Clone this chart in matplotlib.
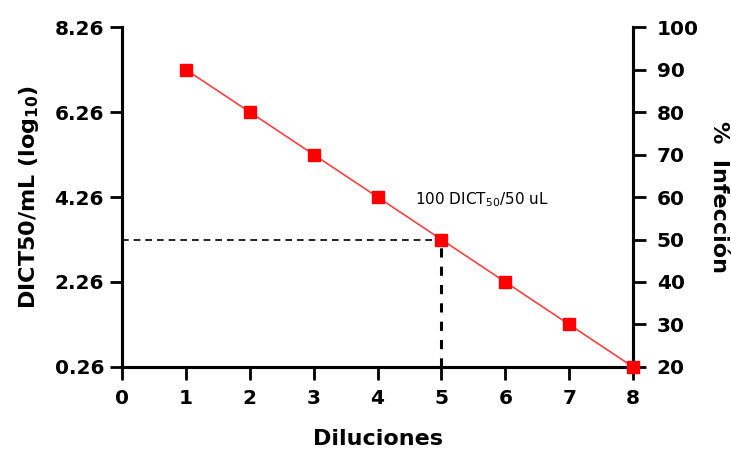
"""Dilution curve: DICT50/mL vs % infection."""

import matplotlib.pyplot as plt

plt.rcParams["font.family"] = ["DejaVu Sans"]
plt.rcParams["mathtext.fontset"] = "dejavusans"

# data
diluciones = [1, 2, 3, 4, 5, 6, 7, 8]
infeccion_pct = [90, 80, 70, 60, 50, 40, 30, 20]
left_ticks = [0.26, 2.26, 4.26, 6.26, 8.26]
right_ticks = [20, 30, 40, 50, 60, 70, 80, 90, 100]
x_ticks = [0, 1, 2, 3, 4, 5, 6, 7, 8]
ref_x = 5
ref_pct = 50
label_pos = (4.58, 58.3)


def main() -> None:
    fig = plt.figure(figsize=(7.31, 4.53), dpi=100)
    ax = fig.add_axes([0.167, 0.19, 0.699, 0.75])
    ax2 = ax.twinx()

    ax.set_xlim(0, 8)
    ax.set_ylim(0.26, 8.26)
    ax2.set_ylim(20, 100)

    # reference lines
    ax2.plot([0, ref_x], [ref_pct, ref_pct], "--", color="black", lw=1.2,
             dashes=(4, 3), clip_on=False)
    ax2.plot([ref_x, ref_x], [20, ref_pct], "--", color="black", lw=2.2,
             dashes=(3, 3), clip_on=False)

    ax2.plot(diluciones, infeccion_pct, "-", color="#ff4040", lw=1.2,
             marker="s", markersize=9, markerfacecolor="#ff0000",
             markeredgecolor="#ff0000", clip_on=False, zorder=5)

    ax2.text(label_pos[0], label_pos[1], "100 DICT$_{50}$/50 uL", fontsize=11)

    ax.set_xticks(x_ticks)
    ax.set_yticks(left_ticks)
    ax.set_yticklabels([f"{v:.2f}" for v in left_ticks])
    ax2.set_yticks(right_ticks)

    for a in (ax, ax2):
        a.spines["top"].set_visible(False)
        for s in a.spines.values():
            s.set_linewidth(2.2)
        a.tick_params(width=2.0, length=9, labelsize=14.5, pad=4)
        for lab in a.get_xticklabels() + a.get_yticklabels():
            lab.set_fontweight("bold")
    ax.tick_params(axis="x", pad=7)
    ax2.tick_params(axis="y", pad=8)

    ax.set_xlabel("Diluciones", fontsize=16, fontweight="bold", labelpad=15)
    ax.set_ylabel("DICT50/mL (log$_{\\mathbf{10}}$)", fontsize=16,
                  fontweight="bold", labelpad=10)
    ax2.set_ylabel("%  Infección", fontsize=16, fontweight="bold",
                   rotation=270, labelpad=22)

    fig.savefig("out.png", dpi=100)
    plt.close(fig)


if __name__ == "__main__":
    main()
